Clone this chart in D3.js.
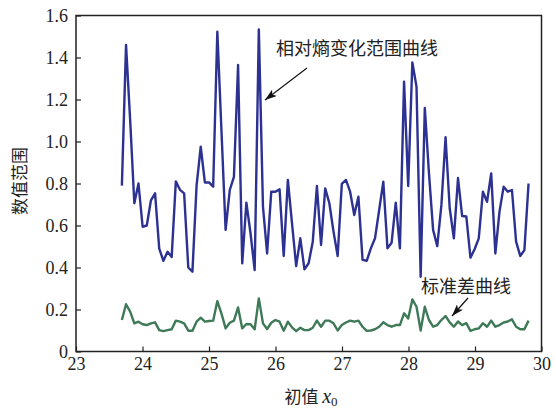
<!DOCTYPE html>
<html>
<head>
<meta charset="utf-8">
<script src="https://cdn.jsdelivr.net/npm/d3@7"></script>
<style>
  body { margin: 0; background: #fff; }
  .serif { font-family: "Liberation Serif", "DejaVu Serif", serif; }
  .cjk { font-family: "Noto Sans CJK SC", sans-serif; }
</style>
</head>
<body>
<svg id="chart" width="556" height="412"></svg>
<script>
// sampling grid of the initial value x0
const xStart = 23.69;
const xStep = 0.0624;

// relative entropy range curve
const entropyRange = [
  0.79, 1.46, 1.10, 0.706, 0.80, 0.594, 0.60, 0.72, 0.753, 0.49,
  0.432, 0.475, 0.45, 0.81, 0.77, 0.753, 0.40, 0.38, 0.79, 0.975,
  0.805, 0.805, 0.785, 1.523, 1.05, 0.579, 0.769, 0.832, 1.364, 0.42,
  0.709, 0.563, 0.388, 1.534, 0.69, 0.467, 0.761, 0.761, 0.772, 0.455,
  0.817, 0.61, 0.407, 0.539, 0.391, 0.42, 0.523, 0.788, 0.507, 0.777,
  0.706, 0.571, 0.455, 0.798, 0.817, 0.761, 0.65, 0.737, 0.436, 0.432,
  0.491, 0.539, 0.674, 0.809, 0.491, 0.518, 0.709, 0.491, 1.285, 0.788,
  1.377, 1.261, 0.356, 1.16, 0.85, 0.579, 0.502, 0.698, 1.02, 0.682,
  0.539, 0.826, 0.645, 0.643, 0.447, 0.487, 0.539, 0.761, 0.713, 0.848,
  0.467, 0.666, 0.785, 0.761, 0.769, 0.523, 0.455, 0.483, 0.80
];

// standard deviation curve
const stdDev = [
  0.15, 0.225, 0.19, 0.134, 0.142, 0.13, 0.126, 0.134, 0.139, 0.102,
  0.097, 0.102, 0.106, 0.147, 0.142, 0.134, 0.099, 0.099, 0.142, 0.161,
  0.142, 0.145, 0.147, 0.24, 0.18, 0.11, 0.137, 0.147, 0.21, 0.11,
  0.131, 0.13, 0.106, 0.253, 0.134, 0.107, 0.137, 0.15, 0.142, 0.099,
  0.142, 0.115, 0.097, 0.113, 0.102, 0.102, 0.113, 0.147, 0.118, 0.147,
  0.147, 0.134, 0.1, 0.126, 0.138, 0.147, 0.142, 0.147, 0.118, 0.098,
  0.1, 0.106, 0.118, 0.139, 0.126, 0.118, 0.126, 0.126, 0.182, 0.157,
  0.248, 0.213, 0.1, 0.213, 0.15, 0.118, 0.126, 0.15, 0.169, 0.139,
  0.118, 0.143, 0.126, 0.135, 0.098, 0.106, 0.11, 0.135, 0.118, 0.147,
  0.118, 0.126, 0.138, 0.143, 0.153, 0.118, 0.106, 0.106, 0.147
];

const xTicks = [23, 24, 25, 26, 27, 28, 29, 30];
const yTicks = [0, 0.2, 0.4, 0.6, 0.8, 1.0, 1.2, 1.4, 1.6];

const svg = d3.select("#chart");

const x = d3.scaleLinear().domain([23, 30]).range([76, 541.5]);
const y = d3.scaleLinear().domain([0, 1.6]).range([351.5, 15.5]);

// x axis (ticks pointing inward)
const xAxis = svg.append("g")
  .attr("transform", `translate(0, ${y(0)})`)
  .call(d3.axisBottom(x).tickValues(xTicks).tickSizeInner(-5).tickSizeOuter(0).tickPadding(6).tickFormat(d3.format("d")));
xAxis.select(".domain").remove();

const yAxis = svg.append("g")
  .attr("transform", `translate(${x(23)}, 0)`)
  .call(d3.axisLeft(y).tickValues(yTicks).tickSizeInner(-5).tickSizeOuter(0).tickPadding(8)
    .tickFormat(d => d === 0 ? "0" : d3.format(".1f")(d)));
yAxis.select(".domain").remove();

[xAxis, yAxis].forEach(g => {
  g.attr("font-family", null).attr("font-size", null);
  g.selectAll(".tick line").attr("stroke", "#222").attr("stroke-width", 1.2);
  g.selectAll(".tick text")
    .attr("class", "serif")
    .attr("font-size", 18)
    .attr("fill", "#222");
});

// frame
svg.append("rect")
  .attr("x", x(23))
  .attr("y", y(1.6))
  .attr("width", x(30) - x(23))
  .attr("height", y(0) - y(1.6))
  .attr("fill", "none")
  .attr("stroke", "#222")
  .attr("stroke-width", 1.5);

const line = d3.line()
  .x((d, i) => x(xStart + i * xStep))
  .y(d => y(d));

svg.append("path")
  .datum(stdDev)
  .attr("fill", "none")
  .attr("stroke", "#3f7a58")
  .attr("stroke-width", 2.4)
  .attr("stroke-linejoin", "round")
  .attr("d", line);

svg.append("path")
  .datum(entropyRange)
  .attr("fill", "none")
  .attr("stroke", "#2c3192")
  .attr("stroke-width", 2.4)
  .attr("stroke-linejoin", "round")
  .attr("d", line);

// arrow marker
svg.append("defs").append("marker")
  .attr("id", "arrow")
  .attr("viewBox", "0 0 12 8")
  .attr("refX", 12)
  .attr("refY", 4)
  .attr("markerWidth", 12)
  .attr("markerHeight", 8)
  .attr("markerUnits", "userSpaceOnUse")
  .attr("orient", "auto")
  .append("path")
  .attr("d", "M0,0 L12,4 L0,8 L3,4 Z")
  .attr("fill", "#111");

// annotations
svg.append("text")
  .attr("class", "cjk")
  .attr("x", 276)
  .attr("y", 55)
  .attr("font-size", 18)
  .attr("fill", "#222")
  .text("相对熵变化范围曲线");

svg.append("line")
  .attr("x1", 307).attr("y1", 68)
  .attr("x2", 265).attr("y2", 100)
  .attr("stroke", "#111")
  .attr("stroke-width", 1.2)
  .attr("marker-end", "url(#arrow)");

svg.append("text")
  .attr("class", "cjk")
  .attr("x", 421)
  .attr("y", 293)
  .attr("font-size", 18)
  .attr("fill", "#222")
  .text("标准差曲线");

svg.append("line")
  .attr("x1", 468).attr("y1", 298)
  .attr("x2", 452).attr("y2", 316)
  .attr("stroke", "#111")
  .attr("stroke-width", 1.2)
  .attr("marker-end", "url(#arrow)");

// axis titles
const xLabel = svg.append("text")
  .attr("x", 311)
  .attr("y", 403)
  .attr("text-anchor", "middle")
  .attr("fill", "#222")
  .attr("font-size", 17);
xLabel.append("tspan").attr("class", "cjk").text("初值 ");
xLabel.append("tspan").attr("class", "serif").attr("font-style", "italic").attr("font-size", 20).text("x");
xLabel.append("tspan").attr("class", "serif").attr("dy", 3).attr("font-size", 13).text("0");

svg.append("text")
  .attr("class", "cjk")
  .attr("transform", "translate(26, 181) rotate(-90)")
  .attr("text-anchor", "middle")
  .attr("font-size", 17)
  .attr("fill", "#222")
  .text("数值范围");
</script>
</body>
</html>
